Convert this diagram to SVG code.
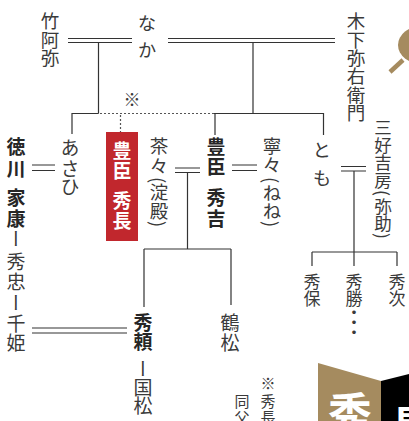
<svg xmlns="http://www.w3.org/2000/svg" width="409" height="421" viewBox="0 0 409 421">
<style>
.t{font-family:"Noto Sans CJK JP","Noto Sans CJK SC",sans-serif;fill:#3a3a3a;writing-mode:vertical-rl;}
.h{font-family:"Noto Sans CJK JP","Noto Sans CJK SC",sans-serif;fill:#3a3a3a;}
.b{font-weight:bold;fill:#262626;}
.ln{stroke:#333;stroke-width:1.2;fill:none;}
.dt{stroke:#555;stroke-width:1.2;stroke-dasharray:2 2;fill:none;}
.tan{fill:#a58b5f;}
</style>
<rect width="409" height="421" fill="#fff"/>
<g id="connectors">
<path class="ln" d="M68 38.5H132M68 42.5H132M168 38.5H335M168 42.5H335"/>
<path class="ln" d="M98.5 42.5V113.5M72 113.5H98.5M72 113V134"/>
<path class="dt" d="M100 113.5H214M120.5 115V132"/>
<path class="ln" d="M253 42.5V113.5M214 113.5H324M215 113V135M323.5 113V135"/>
<path class="ln" d="M32 165H55M32 170.5H55"/>
<path class="ln" d="M175 168H200M175 172.5H200"/>
<path class="ln" d="M187.5 172.5V249M144 249H231M144 249V307M231 249V305"/>
<path class="ln" d="M232 165H257M232 170.5H257"/>
<path class="ln" d="M341 166.5H366M341 171H366"/>
<path class="ln" d="M354 171V266M312 252H397M312 252V266M397 252V266"/>
<path class="ln" d="M32 328H127M32 333H127"/>
</g>
<g id="n-chikuami"><text class="t" x="50" y="12 30.5 49" font-size="18.5">竹阿弥</text></g>
<g id="n-naka"><text class="t" x="147" y="14 41" font-size="18.5">なか</text></g>
<g id="n-kinoshita"><text class="t" x="356" y="12 30.5 49 67 85.5 103.5" font-size="18.5">木下弥右衛門</text></g>
<g id="n-note"><text class="h" x="132" y="106" font-size="17" text-anchor="middle">※</text></g>
<g id="n-ieyasu"><text class="t" x="16" font-size="19"><tspan class="b" y="137 159.5 178 188 209">徳川 家康</tspan><tspan y="230 253 273 293.5 315 334">ー秀忠ー千姫</tspan></text></g>
<g id="n-asahi"><text class="t" x="70" y="138.5 159 177" font-size="19">あさひ</text></g>
<g id="n-hidenaga"><rect x="106" y="132" width="32" height="109" fill="#c1272d"/><text class="t" x="122" y="141.5 161 180 191.5 211.5" font-size="19" font-weight="bold" style="fill:#fff">豊臣 秀長</text></g>
<g id="n-chacha"><text class="t" x="159" y="137 156.5 177 183 202 221" font-size="18.5">茶々(淀殿)</text></g>
<g id="n-hideyoshi"><text class="t b" x="216" y="137 157.5 176 188.5 209" font-size="19">豊臣 秀吉</text></g>
<g id="n-nene"><text class="t" x="272" y="137 156 177 183.5 202 221" font-size="18.5">寧々(ねね)</text></g>
<g id="n-tomo"><text class="t" x="322" y="141 169" font-size="18.5">とも</text></g>
<g id="n-miyoshi"><text class="t" x="383" y="119 136.5 154 171.5 190 197.5 215 233" font-size="17.5">三好吉房(弥助)</text></g>
<g id="n-hideyasu"><text class="t" x="312" y="273.5 290.5" font-size="17">秀保</text></g>
<g id="n-hidekatsu"><text class="t" x="354" y="273.5 290.5 304.5 314.5 324.5" font-size="17">秀勝・・・</text></g>
<g id="n-hidetsugu"><text class="t" x="397" y="273.5 290.5" font-size="17">秀次</text></g>
<g id="n-tsurumatsu"><text class="t" x="230" y="313 333" font-size="19">鶴松</text></g>
<g id="n-hideyori"><text class="t" x="143" font-size="19"><tspan class="b" y="313 332">秀頼</tspan><tspan y="359.5 378 396.5">ー国松</tspan></text></g>
<g id="n-footnote"><text class="t" x="268" y="376 394 410" font-size="15">※秀長</text><text class="t" x="242" y="394 410" font-size="15">同父</text></g>
<g id="banner">
<polygon class="tan" points="318,363 381,381 381,421 318,421"/>
<polygon points="381,381 409,374 409,421 381,421" fill="#000"/>
<text class="h" x="350" y="430" font-size="44" font-weight="bold" text-anchor="middle" style="fill:#fff">秀</text>
<text class="h" x="410" y="440" font-size="40" font-weight="bold" text-anchor="middle" style="fill:#fff">長</text>
</g>
<g id="fan">
<ellipse class="tan" cx="422" cy="45" rx="24" ry="19"/>
<line x1="390" y1="72" x2="403" y2="60" stroke="#a58b5f" stroke-width="4.5"/>
</g>
</svg>
